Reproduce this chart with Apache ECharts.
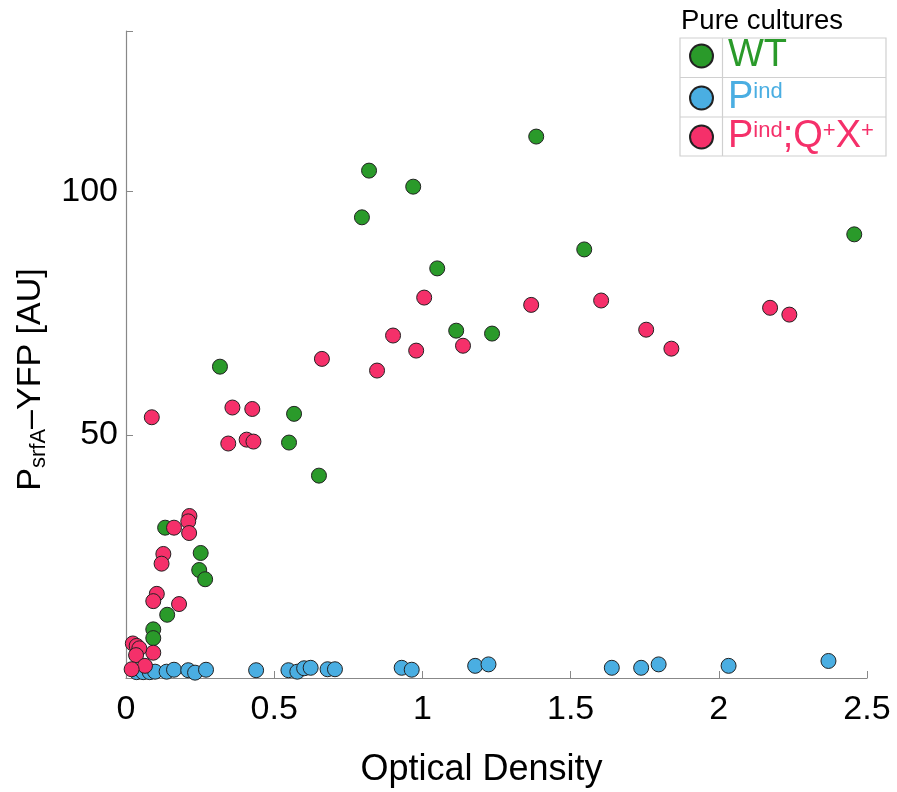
<!DOCTYPE html>
<html>
<head>
<meta charset="utf-8">
<script src="https://cdn.jsdelivr.net/npm/echarts@6/dist/echarts.min.js"></script>
<style>
html, body { margin: 0; background: #fff; }
#chart { width: 897px; height: 792px; }
</style>
</head>
<body>
<div id="chart"></div>
<script>
// WT
const wtOD = [1.384, 0.820, 0.969, 0.796, 2.457, 1.546, 1.050, 1.114, 1.235, 0.317, 0.567, 0.550, 0.651, 0.132, 0.252, 0.247, 0.267, 0.139, 0.092, 0.092];
const wtYFP = [111.3, 104.3, 101.0, 94.7, 91.2, 88.1, 84.2, 71.4, 70.8, 64.0, 54.3, 48.4, 41.6, 30.9, 25.7, 22.2, 20.3, 13.0, 10.0, 8.2];

// Pind
const indOD = [0.036, 0.058, 0.080, 0.098, 0.137, 0.162, 0.210, 0.233, 0.270, 0.439, 0.548, 0.578, 0.601, 0.623, 0.680, 0.705, 0.930, 0.964, 1.178, 1.223, 1.639, 1.738, 1.797, 2.033, 2.370];
const indYFP = [1.2, 1.2, 1.2, 1.3, 1.3, 1.7, 1.6, 1.1, 1.7, 1.6, 1.6, 1.3, 2.0, 2.1, 1.8, 1.8, 2.1, 1.7, 2.5, 2.8, 2.1, 2.1, 2.8, 2.5, 3.5];

// Pind;Q+X+
const qxOD = [1.006, 1.367, 1.603, 2.173, 2.238, 1.755, 1.840, 0.901, 0.979, 1.137, 0.661, 0.847, 0.087, 0.359, 0.426, 0.345, 0.407, 0.430, 0.214, 0.210, 0.162, 0.213, 0.126, 0.120, 0.104, 0.092, 0.179, 0.092, 0.023, 0.036, 0.045, 0.034, 0.064, 0.019];
const qxYFP = [78.2, 76.7, 77.6, 76.1, 74.7, 71.6, 67.7, 70.4, 67.3, 68.3, 65.6, 63.2, 53.6, 55.6, 55.3, 48.2, 49.0, 48.6, 33.3, 32.2, 30.9, 29.8, 25.5, 23.5, 17.3, 15.8, 15.2, 5.2, 7.1, 6.6, 6.1, 4.7, 2.5, 1.8];

const xTicks = [0, 0.5, 1, 1.5, 2, 2.5];
const yTicks = [50, 100];

const GREEN = '#2a9a2a', BLUE = '#4aaee2', PINK = '#f5306a';
const FONT = 'Liberation Sans';

const zip = (a, b) => a.map((v, i) => [v, b[i]]);

function supRich(color) {
  return {
    b: { fontSize: 38, lineHeight: 42, color: color, fontFamily: FONT },
    s: { fontSize: 22, lineHeight: 22, color: color, fontFamily: FONT, verticalAlign: 'top', padding: [4, 0, 0, 0] }
  };
}

function legendRow(name, label, color, top) {
  return {
    data: [name],
    left: 689,
    top: top,
    padding: 0,
    icon: 'circle',
    itemWidth: 23,
    itemHeight: 23,
    selectedMode: false,
    formatter: () => label,
    textStyle: { color: color, fontFamily: FONT, padding: [0, 0, 0, 10], rich: supRich(color) }
  };
}

function dotSeries(name, data, color) {
  return {
    name: name,
    type: 'scatter',
    data: data,
    symbolSize: 15,
    itemStyle: { color: color, borderColor: '#222', borderWidth: 1, opacity: 1 }
  };
}

const chart = echarts.init(document.getElementById('chart'));
chart.setOption({
  animation: false,
  grid: { left: 126, right: 30, top: 31, bottom: 114, outerBoundsMode: 'none', containLabel: false },
  xAxis: {
    type: 'value',
    min: 0,
    max: 2.5,
    interval: 0.5,
    name: 'Optical Density',
    nameLocation: 'middle',
    nameGap: 74,
    nameTextStyle: { fontSize: 36, color: '#000', fontFamily: FONT, padding: [0, 30, 0, 0] },
    axisLine: { show: true, lineStyle: { color: '#888', width: 1.2 } },
    axisTick: { show: true, inside: true, length: 7, lineStyle: { color: '#888' } },
    axisLabel: {
      fontSize: 34, color: '#000', fontFamily: FONT, margin: 15,
      formatter: v => xTicks.includes(v) ? String(v) : ''
    },
    splitLine: { show: false }
  },
  yAxis: {
    type: 'value',
    min: 0,
    max: 133,
    interval: 50,
    name: '{b|P}{sub|srfA}{b|–YFP [AU]}',
    nameLocation: 'middle',
    nameRotate: 90,
    nameGap: 70,
    nameTextStyle: {
      padding: [0, 50, 0, 0],
      rich: {
        b: { fontSize: 34, lineHeight: 40, color: '#000', fontFamily: FONT },
        sub: { fontSize: 22, lineHeight: 22, color: '#000', fontFamily: FONT, verticalAlign: 'bottom' }
      }
    },
    axisLine: { show: true, lineStyle: { color: '#888', width: 1.2 } },
    axisTick: { show: true, inside: true, length: 7, lineStyle: { color: '#888' } },
    axisLabel: {
      fontSize: 34, color: '#000', fontFamily: FONT, margin: 8,
      formatter: v => yTicks.includes(v) ? String(v) : ''
    },
    splitLine: { show: false }
  },
  legend: [
    legendRow('WT', '{b|WT}', GREEN, 37),
    legendRow('Pind', '{b|P}{s|ind}', BLUE, 77),
    legendRow('Pind;Q+X+', '{b|P}{s|ind}{b|;Q}{s|+}{b|X}{s|+}', PINK, 116)
  ],
  graphic: [
    { type: 'text', left: 681, top: 7, style: { text: 'Pure cultures', fontSize: 27.5, fill: '#000', fontFamily: FONT } },
    { type: 'rect', shape: { x: 680, y: 38, width: 206, height: 118 }, style: { fill: 'none', stroke: '#d0d0d0', lineWidth: 1.2 } },
    { type: 'line', shape: { x1: 722.5, y1: 38, x2: 722.5, y2: 156 }, style: { stroke: '#d0d0d0', lineWidth: 1.2 } },
    { type: 'line', shape: { x1: 680, y1: 77.5, x2: 886, y2: 77.5 }, style: { stroke: '#d0d0d0', lineWidth: 1.2 } },
    { type: 'line', shape: { x1: 680, y1: 117, x2: 886, y2: 117 }, style: { stroke: '#d0d0d0', lineWidth: 1.2 } }
  ],
  series: [
    dotSeries('Pind', zip(indOD, indYFP), BLUE),
    dotSeries('WT', zip(wtOD, wtYFP), GREEN),
    dotSeries('Pind;Q+X+', zip(qxOD, qxYFP), PINK)
  ]
});
</script>
</body>
</html>
